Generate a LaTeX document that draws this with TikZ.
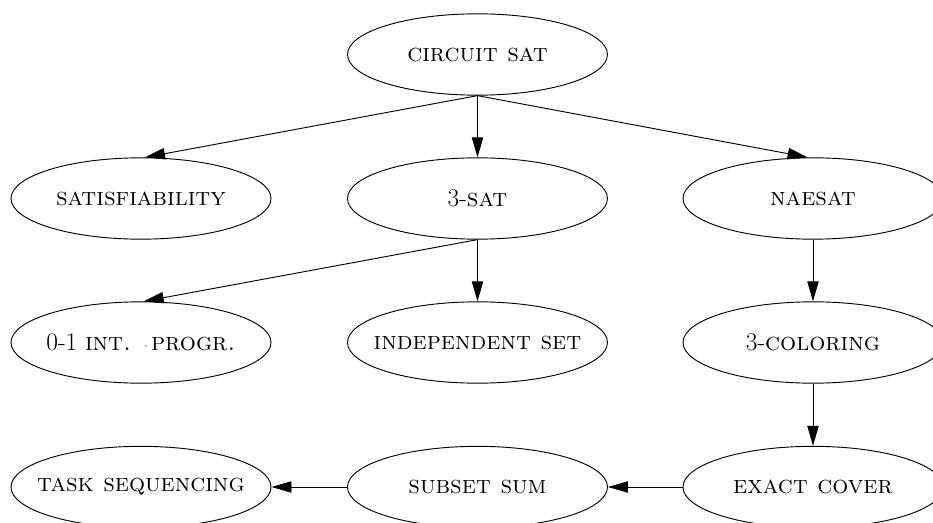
\documentclass[tikz,border=0pt]{standalone}
\usepackage{amsmath}
\usepackage{tikz}
\usetikzlibrary{shapes.geometric,arrows.meta}

\newcommand{\probname}[1]{\makebox[0pt][c]{#1}}

\tikzset{
  problem/.style={draw, ellipse, line width=0.7pt, inner sep=0pt,
    minimum width=195pt, minimum height=61pt,
    font=\fontsize{19}{22}\selectfont},
  reduce/.style={line width=0.7pt, -{Triangle[length=15pt,width=8.5pt]}}
}

\begin{document}
\begin{tikzpicture}[x=0.75pt, y=0.75pt]
		\useasboundingbox (0,0) rectangle (933,522);
		% top
		\node[problem] (csat) at (477.5,467.5) {\probname{\textsc{circuit sat}}};
		% second row
		\node[problem] (sat) at (141,323.5) {\probname{\textsc{satisfiability}}};
		\node[problem] (tsat) at (477.5,323.5) {\probname{3-\textsc{sat}}};
		\node[problem] (nae) at (813,323.5) {\probname{\textsc{naesat}}};
		% third row
		\node[problem] (ip) at (141,179.5) {\probname{0-1 \textsc{int.} {\small\textperiodcentered}\textsc{progr.}}};
		\node[problem] (indset) at (477.5,179.5) {\probname{\textsc{independent set}}};
		\node[problem] (col) at (813,179.5) {\probname{3-\textsc{coloring}}};
		% bottom row
		\node[problem] (task) at (141,35) {\probname{\textsc{task sequencing}}};
		\node[problem] (ssum) at (477.5,35) {\probname{\textsc{subset sum}}};
		\node[problem] (xc) at (813,35) {\probname{\textsc{exact cover}}};

		\draw[reduce] (csat.south) -- ([xshift=3pt]sat.north);
		\draw[reduce] (csat.south) -- (tsat.north);
		\draw[reduce] (csat.south) -- ([xshift=-4pt]nae.north);
		\draw[reduce] (tsat.south) -- ([xshift=2pt]ip.north);
		\draw[reduce] (tsat.south) -- (indset.north);
		\draw[reduce] (nae.south) -- (col.north);
		\draw[reduce] (col.south) -- (xc.north);
		\draw[reduce] (xc.west) -- (ssum.east);
		\draw[reduce] (ssum.west) -- (task.east);
	\end{tikzpicture}
\end{document}
